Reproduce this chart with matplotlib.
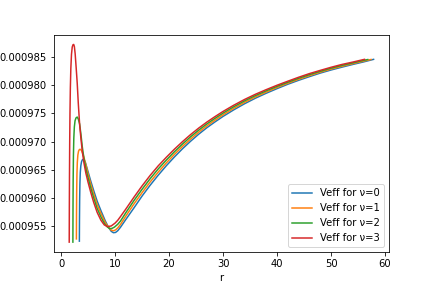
import matplotlib
matplotlib.use("Agg")
import matplotlib.pyplot as plt

# nu = 3 (red)
r_nu3 = [1.52, 1.54, 1.57, 1.61, 1.66, 1.73, 1.82, 1.94, 2.08, 2.22, 2.35, 2.47, 2.62, 2.80, 3.00, 3.20,
         3.45, 3.70, 3.95, 4.25, 4.60, 5.00, 5.50, 6.05, 6.70, 7.40, 8.00, 8.60, 9.30, 10.0, 10.5, 11.0,
         12.0, 13.5, 15.0, 16.5, 18.0, 19.5, 21.0, 22.5, 24.0, 25.5, 27.0, 28.5, 30.0, 32.0, 34.0, 36.0,
         38.0, 40.0, 42.0, 44.0, 46.0, 48.0, 50.0, 52.0, 54.0, 56.0, 56.2]
v_nu3 = [952.13e-6, 958.0e-6, 964.0e-6, 970.0e-6, 975.0e-6, 979.5e-6, 983.0e-6, 985.5e-6, 986.8e-6,
         987.2e-6, 987.25e-6, 986.9e-6, 985.6e-6, 983.2e-6, 980.4e-6, 976.8e-6, 973.0e-6, 970.4e-6,
         968.2e-6, 966.2e-6, 964.4e-6, 962.8e-6, 961.0e-6, 959.2e-6, 957.4e-6, 956.0e-6, 955.2e-6,
         954.88e-6, 955.0e-6, 955.5e-6, 956.0e-6, 956.65e-6, 958.0e-6, 960.1e-6, 962.1e-6, 963.97e-6,
         965.68e-6, 967.2e-6, 968.64e-6, 969.98e-6, 971.24e-6, 972.39e-6, 973.45e-6, 974.42e-6,
         975.34e-6, 976.46e-6, 977.48e-6, 978.4e-6, 979.22e-6, 980.0e-6, 980.72e-6, 981.42e-6,
         982.07e-6, 982.64e-6, 983.19e-6, 983.69e-6, 984.11e-6, 984.56e-6, 984.6e-6]

# nu = 2 (green)
r_nu2 = [2.20, 2.22, 2.25, 2.30, 2.37, 2.47, 2.60, 2.78, 3.00, 3.20, 3.45, 3.70, 3.95, 4.25, 4.60, 5.00,
         5.50, 6.05, 6.70, 7.40, 8.10, 8.60, 9.00, 9.40, 9.90, 10.5, 11.0, 12.0, 13.5, 15.0, 16.5, 18.0,
         19.5, 21.0, 22.5, 24.0, 25.5, 27.0, 28.5, 30.0, 32.0, 34.0, 36.0, 38.0, 40.0, 42.0, 44.0, 46.0,
         48.0, 50.0, 52.0, 54.0, 56.0, 56.8]
v_nu2 = [952.13e-6, 958.0e-6, 963.0e-6, 967.5e-6, 970.6e-6, 972.6e-6, 973.7e-6, 974.2e-6, 974.35e-6,
         974.0e-6, 973.1e-6, 971.2e-6, 969.0e-6, 967.0e-6, 965.2e-6, 963.6e-6, 961.8e-6, 960.0e-6,
         958.1e-6, 956.6e-6, 955.35e-6, 954.8e-6, 954.55e-6, 954.55e-6, 954.8e-6, 955.3e-6, 955.85e-6,
         957.35e-6, 959.5e-6, 961.5e-6, 963.39e-6, 965.13e-6, 966.7e-6, 968.18e-6, 969.56e-6,
         970.85e-6, 972.03e-6, 973.12e-6, 974.11e-6, 975.05e-6, 976.19e-6, 977.23e-6, 978.17e-6,
         979.01e-6, 979.8e-6, 980.54e-6, 981.24e-6, 981.89e-6, 982.48e-6, 983.03e-6, 983.53e-6,
         983.97e-6, 984.42e-6, 984.57e-6]

# nu = 1 (orange)
r_nu1 = [2.85, 2.87, 2.90, 2.95, 3.02, 3.12, 3.25, 3.42, 3.60, 3.80, 4.00, 4.25, 4.60, 5.00, 5.50, 6.05,
         6.70, 7.40, 8.20, 8.80, 9.30, 9.70, 10.1, 10.5, 11.0, 12.0, 13.5, 15.0, 16.5, 18.0, 19.5, 21.0,
         22.5, 24.0, 25.5, 27.0, 28.5, 30.0, 32.0, 34.0, 36.0, 38.0, 40.0, 42.0, 44.0, 46.0, 48.0, 50.0,
         52.0, 54.0, 56.0, 57.4]
v_nu1 = [952.7e-6, 957.0e-6, 961.0e-6, 964.2e-6, 966.3e-6, 967.6e-6, 968.3e-6, 968.6e-6, 968.6e-6,
         968.4e-6, 967.9e-6, 967.2e-6, 965.9e-6, 964.3e-6, 962.5e-6, 960.7e-6, 958.8e-6, 957.2e-6,
         955.6e-6, 954.75e-6, 954.25e-6, 954.15e-6, 954.3e-6, 954.65e-6, 955.25e-6, 956.75e-6,
         958.9e-6, 960.9e-6, 962.81e-6, 964.57e-6, 966.2e-6, 967.72e-6, 969.14e-6, 970.45e-6,
         971.67e-6, 972.78e-6, 973.79e-6, 974.75e-6, 975.91e-6, 976.97e-6, 977.93e-6, 978.79e-6,
         979.6e-6, 980.36e-6, 981.06e-6, 981.71e-6, 982.32e-6, 982.87e-6, 983.37e-6, 983.83e-6,
         984.28e-6, 984.58e-6]

# nu = 0 (blue)
r_nu0 = [3.40, 3.42, 3.45, 3.50, 3.57, 3.67, 3.80, 3.95, 4.12, 4.30, 4.50, 4.75, 5.05, 5.50, 6.05, 6.70,
         7.40, 8.20, 8.80, 9.30, 9.70, 10.1, 10.5, 11.0, 12.0, 13.5, 15.0, 16.5, 18.0, 19.5, 21.0, 22.5,
         24.0, 25.5, 27.0, 28.5, 30.0, 32.0, 34.0, 36.0, 38.0, 40.0, 42.0, 44.0, 46.0, 48.0, 50.0, 52.0,
         54.0, 56.0, 57.88]
v_nu0 = [952.3e-6, 956.0e-6, 959.5e-6, 962.5e-6, 964.5e-6, 965.7e-6, 966.4e-6, 966.75e-6, 966.85e-6,
         966.7e-6, 966.3e-6, 965.5e-6, 964.5e-6, 963.0e-6, 961.3e-6, 959.4e-6, 957.7e-6, 955.9e-6,
         954.75e-6, 954.05e-6, 953.8e-6, 953.85e-6, 954.15e-6, 954.75e-6, 956.15e-6, 958.2e-6,
         960.3e-6, 962.23e-6, 964.02e-6, 965.7e-6, 967.26e-6, 968.72e-6, 970.06e-6, 971.31e-6,
         972.45e-6, 973.48e-6, 974.46e-6, 975.64e-6, 976.72e-6, 977.7e-6, 978.58e-6, 979.4e-6,
         980.18e-6, 980.88e-6, 981.53e-6, 982.16e-6, 982.71e-6, 983.21e-6, 983.69e-6, 984.14e-6,
         984.6e-6]

labels = ["Veff for ν=0", "Veff for ν=1", "Veff for ν=2", "Veff for ν=3"]
xlabel = "r"

fig = plt.figure(figsize=(6, 4), dpi=72)
fig.subplots_adjust(left=0.125, right=0.9, bottom=0.125, top=0.88)
ax = fig.add_subplot(111)

for rr, vv, lab in zip([r_nu0, r_nu1, r_nu2, r_nu3], [v_nu0, v_nu1, v_nu2, v_nu3], labels):
    ax.plot(rr, vv, label=lab)

ax.set_xlabel(xlabel)
ax.ticklabel_format(axis="y", useOffset=False, style="plain")
ax.legend(loc="lower right")

fig.savefig("out.png", dpi=72)
